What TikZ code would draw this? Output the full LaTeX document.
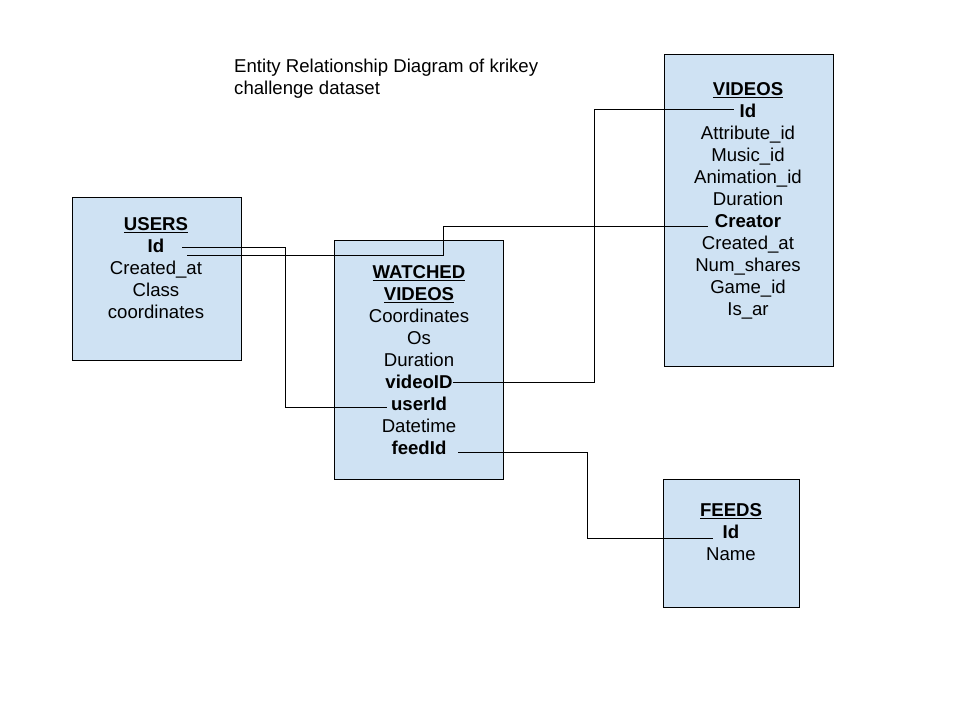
\documentclass[tikz,border=0pt]{standalone}
\usepackage{fontspec}
\setmainfont{Liberation Sans}
\usepackage{tikz}
\usetikzlibrary{positioning}
\definecolor{tblue}{RGB}{207,226,243}
\newcommand{\erfont}{\fontsize{18.6pt}{22pt}\selectfont}

\begin{document}
\begin{tikzpicture}[x=1pt, y=-1pt,
        entity/.style={rectangle, draw=black, fill=tblue, line width=1pt, inner sep=0pt},
        field/.style={inner sep=0pt, text height=13.5pt, text depth=0pt, font=\erfont, node distance=22pt},
        key/.style={field, font=\erfont\bfseries},
        link/.style={draw=black, line width=1pt}
      ]
        \useasboundingbox[fill=white] (0,0) rectangle (960,720);

        \node[align=left, anchor=west, inner sep=0pt, font=\erfont] (title) at (234, 79) {Entity Relationship Diagram of krikey\\challenge dataset};

        % tables
        \node[entity, minimum width=169pt, minimum height=163pt]  (users)   at (156.5, 278.5) {};
        \node[entity, minimum width=169pt, minimum height=239pt]  (watched) at (418.5, 359.5) {};
        \node[entity, minimum width=169pt, minimum height=312pt]  (videos)  at (748.5, 210)   {};
        \node[entity, minimum width=136pt, minimum height=128pt]  (feeds)   at (731, 543)     {};

        % users
        \node[key]    (uhead)    at (156, 224)          {\underline{USERS}};
        \node[key]    (uid)      [below of=uhead]       {Id};
        \node[field]  (ucreated) [below of=uid]         {Created\_at};
        \node[field]  (uclass)   [below of=ucreated]    {Class};
        \node[field]  (ucoord)   [below of=uclass]      {coordinates};

        % watched videos
        \node[key]    (whead)    at (419, 272)          {\underline{WATCHED}};
        \node[key]    (whead2)   [below of=whead]       {\underline{VIDEOS}};
        \node[field]  (wcoord)   [below of=whead2]      {Coordinates};
        \node[field]  (wos)      [below of=wcoord]      {Os};
        \node[field]  (wdur)     [below of=wos]         {Duration};
        \node[key]    (wvid)     [below of=wdur]        {videoID};
        \node[key]    (wuid)     [below of=wvid]        {userId};
        \node[field]  (wtime)    [below of=wuid]        {Datetime};
        \node[key]    (wfid)     [below of=wtime]       {feedId};

        % videos
        \node[key]    (vhead)    at (748, 89)           {\underline{VIDEOS}};
        \node[key]    (vid)      [below of=vhead]       {Id};
        \node[field]  (vattr)    [below of=vid]         {Attribute\_id};
        \node[field]  (vmusic)   [below of=vattr]       {Music\_id};
        \node[field]  (vanim)    [below of=vmusic]      {Animation\_id};
        \node[field]  (vdur)     [below of=vanim]       {Duration};
        \node[key]    (vcreator) [below of=vdur]        {Creator};
        \node[field]  (vcreated) [below of=vcreator]    {Created\_at};
        \node[field]  (vshares)  [below of=vcreated]    {Num\_shares};
        \node[field]  (vgame)    [below of=vshares]     {Game\_id};
        \node[field]  (var)      [below of=vgame]       {Is\_ar};

        % feeds
        \node[key]    (fhead)    at (731, 510)          {\underline{FEEDS}};
        \node[key]    (fid)      [below of=fhead]       {Id};
        \node[field]  (fname)    [below of=fid]         {Name};

        % relations
        \draw[link] ([xshift=18pt, yshift=-1.7pt]uid.east) -- ++(103,0) |- ([xshift=-4pt, yshift=-3pt]wuid.west);
        \draw[link] ([xshift=22.7pt, yshift=-9.7pt]uid.east) -- ++(256,0) |- ([xshift=-7pt, yshift=-5pt]vcreator.west);
        \draw[link] (wvid.east) -- ++(142,0) |- ([xshift=-6pt, yshift=2pt]vid.west);
        \draw[link] ([xshift=11.6pt, yshift=-4.7pt]wfid.east) -- ++(129,0) |- ([xshift=-9.7pt, yshift=-6pt]fid.west);
      \end{tikzpicture}
\end{document}
